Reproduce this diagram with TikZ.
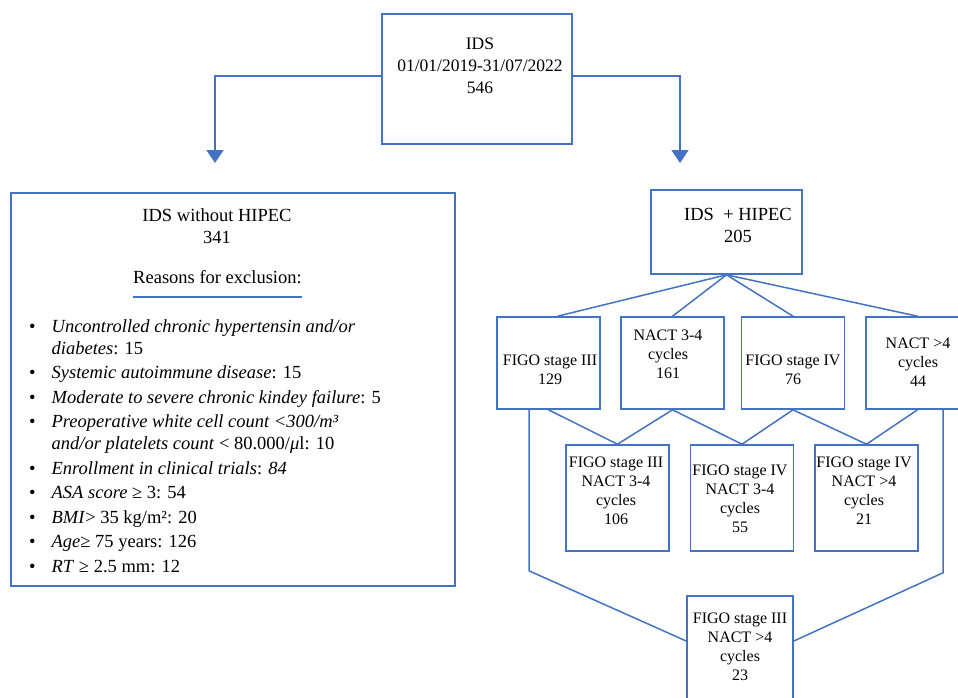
\documentclass[tikz,border=0pt]{standalone}
\usepackage{fontspec}
\setmainfont{Liberation Serif}
\usetikzlibrary{arrows.meta, positioning}
\definecolor{flowblue}{HTML}{4472C4}

\tikzset{
  box/.style={draw=flowblue, line width=1.6pt, inner sep=0pt},
  boxtext/.style={align=center, inner sep=0pt, font=\fontsize{16}{19}\selectfont},
  link/.style={draw=flowblue, line width=1.5pt},
  flowarrow/.style={link, -{Triangle[width=17pt,length=13pt]}}
}

\begin{document}
\begin{tikzpicture}[x=1pt, y=-1pt]
\clip (0,0) rectangle (958,697);
\useasboundingbox (0,0) rectangle (958,697);

% top box
\node[box, minimum width=190pt, minimum height=130pt] (ids) at (477,79) {};
\node[boxtext, font=\fontsize{17.5}{22}\selectfont] (ids text) at (480,65.5) {IDS\\01/01/2019-31/07/2022\\546};
\coordinate (aL) at (215,163);
\coordinate (aR) at (680,163);
\draw[flowarrow] ([yshift=3pt]ids.west) -| (aL);
\draw[flowarrow] ([yshift=3pt]ids.east) -| (aR);

% left box
\node[box, minimum width=444pt, minimum height=393pt] (nohipec) at (233,389.5) {};
\node[boxtext, font=\fontsize{18.5}{22}\selectfont] (nohipec text) at (217,226) {IDS without HIPEC\\341};
\node[inner sep=0pt, anchor=base, font=\fontsize{18.5}{22}\selectfont] (reason) at (217.5,283) {Reasons for exclusion:};
\draw[link, line width=1.3pt] ([yshift=-14pt]reason.base west) -- ([yshift=-14pt]reason.base east);
\node[inner sep=0pt, anchor=base west, font=\fontsize{18.5}{22}\selectfont] (list) at (29,332) {%
\begin{tabular}[t]{@{}c@{\hspace{16pt}}l@{}}
\textbullet & \textit{Uncontrolled chronic hypertensin and/or}\\
            & \textit{diabetes}: 15\\[2.5pt]
\textbullet & \textit{Systemic autoimmune disease}: 15\\[2.5pt]
\textbullet & \textit{Moderate to severe chronic kindey failure}: 5\\[2.5pt]
\textbullet & \textit{Preoperative white cell count <300/m³}\\
            & \textit{and/or platelets count} < 80.000/\textit{μ}l: 10\\[2.5pt]
\textbullet & \textit{Enrollment in clinical trials}: \textit{84}\\[2.5pt]
\textbullet & \textit{ASA score} ≥ 3: 54\\[2.5pt]
\textbullet & \textit{BMI}> 35 kg/m²: 20\\[2.5pt]
\textbullet & \textit{Age}≥ 75 years: 126\\[2.5pt]
\textbullet & \textit{RT} ≥ 2.5 mm: 12
\end{tabular}};

% right tree
\node[box, minimum width=151pt, minimum height=84pt] (hipec) at (726.5,232) {};
\node[boxtext, font=\fontsize{18.5}{22}\selectfont] (hipec text) at (738,225) {IDS~ + HIPEC\\205};

\node[box, minimum width=103pt, minimum height=92pt] (b1) at (548.5,363) {};
\node[box, minimum width=103pt, minimum height=92pt] (b2) at (672.5,363) {};
\node[box, minimum width=103pt, minimum height=92pt] (b3) at (793,363) {};
\node[box, minimum width=103pt, minimum height=92pt] (b4) at (917.5,363) {};
\node[boxtext] (b1 text) at (550,369.5) {FIGO stage III\\129};
\node[boxtext] (b2 text) at (668,354) {NACT 3-4\\cycles\\161};
\node[boxtext] (b3 text) at (793,369.5) {FIGO stage IV\\76};
\node[boxtext] (b4 text) at (918,362.5) {NACT >4\\cycles\\44};

\node[box, minimum width=103pt, minimum height=106pt] (c1) at (617.5,498) {};
\node[box, minimum width=103pt, minimum height=106pt] (c2) at (742,498) {};
\node[box, minimum width=103pt, minimum height=106pt] (c3) at (866.5,498) {};
\node[boxtext] (c1 text) at (616,490.5) {FIGO stage III\\NACT 3-4\\cycles\\106};
\node[boxtext] (c2 text) at (740,499) {FIGO stage IV\\NACT 3-4\\cycles\\55};
\node[boxtext] (c3 text) at (864,490.5) {FIGO stage IV\\NACT >4\\cycles\\21};

\node[box, minimum width=106pt, minimum height=114pt] (d) at (740,653) {};
\node[boxtext] (d text) at (740,647) {FIGO stage III\\NACT >4\\cycles\\23};

\draw[link] (hipec.south) -- ([xshift=9pt]b1.north);
\draw[link] (hipec.south) -- (b2.north);
\draw[link] (hipec.south) -- (b3.north);
\draw[link] (hipec.south) -- (b4.north);

\draw[link] (b1.south) -- (c1.north);
\draw[link] (b2.south) -- (c1.north);
\draw[link] (b2.south) -- (c2.north);
\draw[link] (b3.south) -- (c2.north);
\draw[link] (b3.south) -- (c3.north);
\draw[link] (b4.south) -- (c3.north);

\draw[link] ([xshift=-19.5pt]b1.south) -- ++(0,161) -- ([yshift=12pt]d.west);
\draw[link] ([xshift=25.5pt]b4.south) -- ++(0,163) -- ([yshift=12pt]d.east);
\end{tikzpicture}
\end{document}
